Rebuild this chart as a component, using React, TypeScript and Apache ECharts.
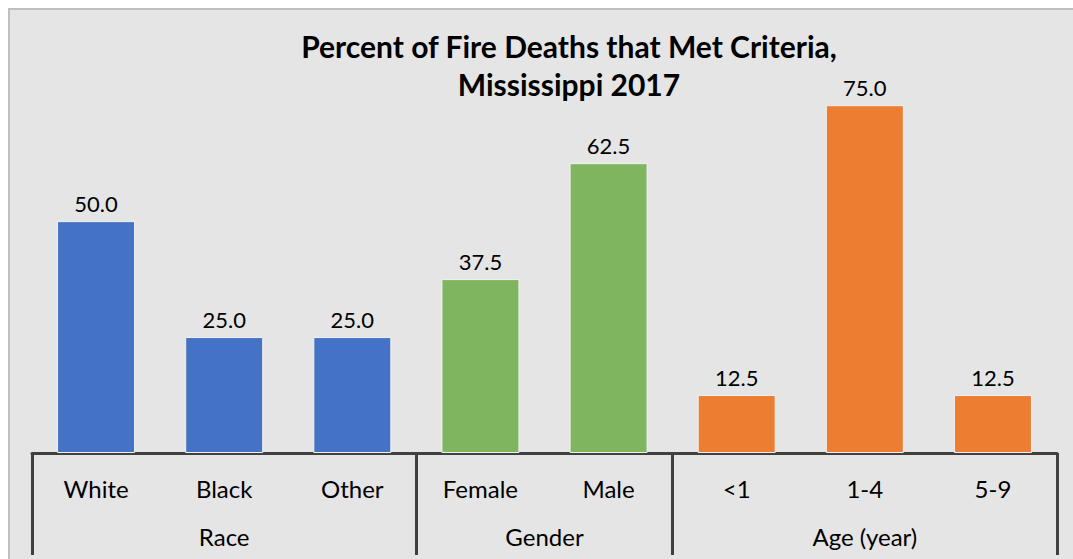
import React, { useEffect, useRef } from "react";
import * as echarts from "echarts";

const categories = ["White", "Black", "Other", "Female", "Male", "<1", "1-4", "5-9"];
const values = [50.0, 25.0, 25.0, 37.5, 62.5, 12.5, 75.0, 12.5];
const groupNames = ["Race", "Gender", "Age (year)"];
const groupSizes = [3, 2, 3];
const groupColors = ["#4472c4", "#7fb55f", "#ed7d31"];
const titleLines = ["Percent of Fire Deaths that Met Criteria,", "Mississippi 2017"];

const FONT = "Lato, 'Noto Sans', sans-serif";

export default function App() {
  const ref = useRef<HTMLDivElement>(null);
  useEffect(() => {
    document.documentElement.style.overflow = "hidden";
    if (!ref.current) return;
    const chart = echarts.init(ref.current, null, { renderer: "svg" });

    const boundaries: number[] = [0];
    const centers: number[] = [];
    const colorOf: string[] = [];
    let acc = 0;
    groupSizes.forEach((s, gi) => {
      centers.push(acc + s / 2);
      for (let i = 0; i < s; i++) colorOf.push(groupColors[gi]);
      acc += s;
      boundaries.push(acc);
    });

    chart.setOption({
      animation: false,
      backgroundColor: "transparent",
      textStyle: { fontFamily: FONT },
      graphic: [
        {
          type: "text",
          x: 559,
          y: 17,
          style: {
            text: titleLines.join("\n"),
            align: "center",
            verticalAlign: "top",
            fontFamily: FONT,
            fontWeight: "bold",
            fontSize: 30,
            lineHeight: 38,
            fill: "#000",
          },
        },
      ],
      grid: { left: 22, right: 16, top: 72, bottom: 106, containLabel: false },
      xAxis: [
        {
          type: "category",
          data: categories,
          axisLine: { show: true, lineStyle: { color: "#404040", width: 3 } },
          axisTick: { show: false },
          axisLabel: { margin: 23, fontSize: 24, color: "#000", fontFamily: FONT, interval: 0 },
          splitLine: { show: false },
        },
        {
          type: "value",
          min: 0,
          max: categories.length,
          position: "bottom",
          axisLine: { show: false },
          splitLine: { show: false },
          axisTick: {
            show: true,
            customValues: boundaries,
            length: 102,
            lineStyle: { color: "#404040", width: 3 },
          },
          axisLabel: {
            show: true,
            customValues: centers,
            margin: 71,
            fontSize: 24,
            color: "#000",
            fontFamily: FONT,
            formatter: (v: number) => {
              const i = centers.findIndex((c) => Math.abs(c - v) < 1e-6);
              return i >= 0 ? groupNames[i] : "";
            },
          },
        },
      ],
      yAxis: {
        type: "value",
        min: 0,
        max: 80,
        show: false,
        splitLine: { show: false },
      },
      series: [
        {
          type: "bar",
          xAxisIndex: 0,
          barWidth: 78,
          data: values.map((v, i) => ({
            value: v,
            itemStyle: { color: colorOf[i], borderColor: "#f2f2f2", borderWidth: 1 },
          })),
          label: {
            show: true,
            position: "top",
            distance: 7,
            fontSize: 22,
            color: "#000",
            fontFamily: FONT,
            formatter: (p: any) => Number(p.value).toFixed(1),
          },
        },
      ],
    });
    return () => chart.dispose();
  }, []);

  return (
    <div
      style={{
        position: "fixed",
        left: 8,
        top: 8,
        width: 1090,
        height: 560,
        boxSizing: "border-box",
        borderTop: "2px solid #bfbfbf",
        borderLeft: "2px solid #bfbfbf",
        background: "#e5e5e5",
      }}
    >
      <div ref={ref} style={{ width: 1063, height: 549 }} />
    </div>
  );
}
